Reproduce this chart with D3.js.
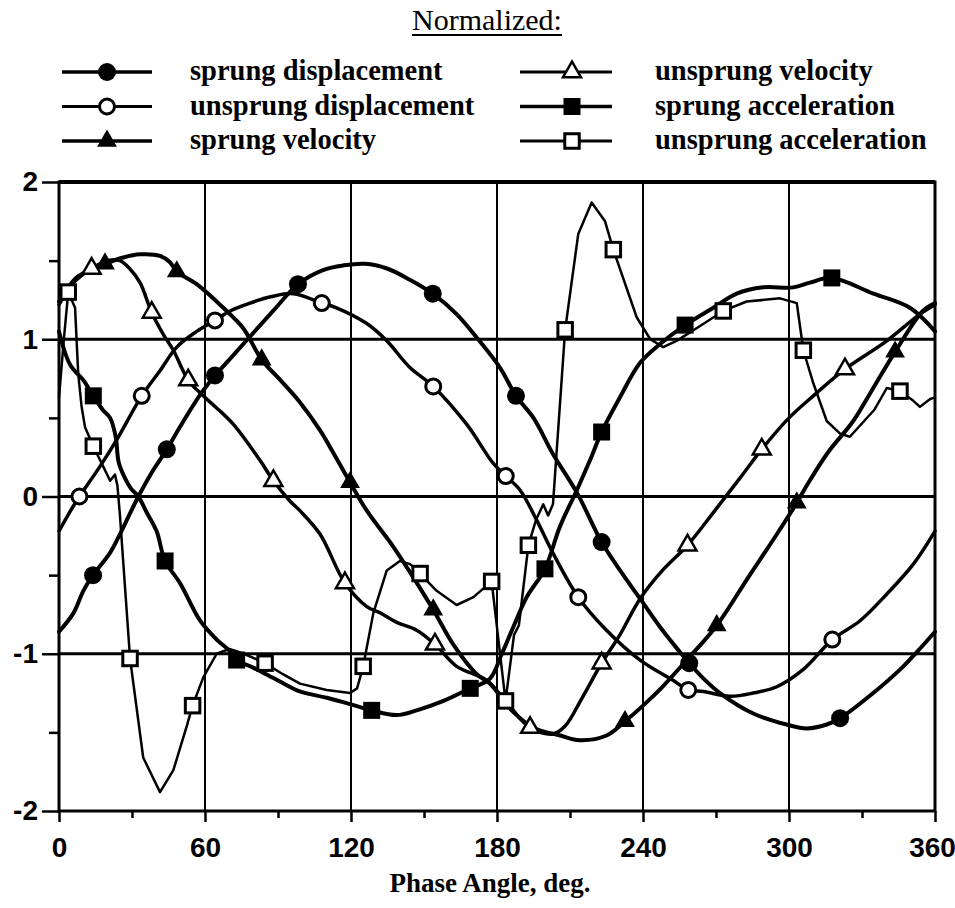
<!DOCTYPE html>
<html lang="en">
<head>
<meta charset="UTF-8">
<title>Normalized response vs phase angle</title>
<script src="https://d3js.org/d3.v7.min.js"></script>
<style>
  body { margin: 0; background: #fff; }
  svg { font-family: "Liberation Serif", "Times New Roman", serif; font-weight: bold; }
  .axis .domain { display: none; }
  .axis line { stroke: #000; stroke-width: 2.5; }
  .axis text { fill: #000; font-size: 28px; }
</style>
</head>
<body>
<svg width="955" height="908"></svg>
<script>
// [phase angle (deg), normalized value]
const sprungDisp = [[0,-0.86],[6,-0.74],[10,-0.60],[14,-0.50],[20.9,-0.36],[24.4,-0.26],[28.5,-0.13],[32.6,0.0],[38,0.15],[44.3,0.30],[50,0.45],[58.6,0.66],[64.1,0.77],[70,0.87],[77.5,1.0],[88,1.18],[98.2,1.35],[108.5,1.44],[117,1.47],[125.8,1.48],[134.8,1.45],[144,1.38],[153.6,1.29],[163.4,1.16],[171.7,1.01],[181.2,0.82],[187.8,0.64],[195,0.50],[203,0.27],[213,0.02],[223,-0.29],[231,-0.48],[238.8,-0.65],[247,-0.83],[255.2,-0.99],[259,-1.06],[265,-1.16],[271.6,-1.25],[285.3,-1.38],[299,-1.45],[307.3,-1.475],[315.5,-1.45],[321,-1.41],[334.6,-1.25],[347,-1.08],[352.5,-0.99],[360,-0.86]];
const sprungDispMarks = [14,44.3,64.1,98.2,153.6,187.8,223,259,321];

const unsprungDisp = [[0,-0.22],[4,-0.11],[8.4,0.0],[16.8,0.19],[23.7,0.36],[34,0.64],[41.5,0.80],[48.4,0.95],[56.6,1.05],[64.1,1.12],[70.3,1.18],[78.5,1.23],[87,1.27],[96.3,1.29],[108,1.23],[114,1.20],[126.5,1.10],[134.7,0.99],[144.2,0.82],[153.8,0.70],[167.5,0.46],[178.5,0.21],[183.6,0.13],[189.5,0.04],[196.3,-0.15],[203,-0.36],[213.4,-0.64],[225,-0.85],[238.8,-1.04],[252.5,-1.17],[258.6,-1.23],[264.8,-1.24],[275.8,-1.27],[285.3,-1.25],[295,-1.21],[305.9,-1.10],[317.8,-0.91],[329.2,-0.79],[340.2,-0.62],[351.1,-0.43],[360,-0.22]];
const unsprungDispMarks = [8.4,34,64.1,108,153.8,183.6,213.4,258.6,317.8];

const sprungVel = [[0,1.24],[7,1.39],[13,1.44],[18.9,1.48],[26.4,1.52],[33.3,1.54],[41.5,1.53],[45.6,1.49],[48.4,1.43],[56.6,1.35],[67.5,1.20],[75.7,1.07],[83.3,0.87],[91,0.74],[99,0.60],[107.3,0.42],[113,0.27],[119.6,0.09],[126.5,-0.09],[137.4,-0.32],[145,-0.50],[153.8,-0.72],[162,-0.94],[171.7,-1.13],[177.1,-1.19],[186,-1.36],[195,-1.47],[206,-1.52],[214,-1.55],[225,-1.52],[232.6,-1.43],[240,-1.33],[248,-1.21],[258,-1.04],[270.3,-0.82],[282.6,-0.53],[295,-0.24],[303.2,-0.04],[307.3,0.07],[316,0.28],[326.4,0.48],[335,0.70],[343.6,0.92],[355,1.18],[360,1.23]];
const sprungVelMarks = [18.9,48.4,83.3,119.6,153.8,232.6,270.3,303.2,343.6];

const unsprungVel = [[0,1.22],[6,1.36],[13.4,1.45],[20,1.50],[25,1.50],[29,1.45],[33.3,1.36],[38.1,1.17],[42.9,1.03],[47,0.93],[53.1,0.74],[58.6,0.65],[65,0.56],[71.6,0.46],[82.6,0.23],[88.1,0.10],[95,-0.03],[99,-0.09],[107.3,-0.24],[117.5,-0.55],[126.5,-0.70],[132,-0.74],[138.8,-0.80],[147,-0.85],[154.5,-0.94],[163.4,-1.08],[175.8,-1.17],[185,-1.33],[193.6,-1.47],[203,-1.51],[208,-1.46],[215,-1.28],[223,-1.06],[230.5,-0.88],[238.8,-0.65],[248,-0.47],[258.3,-0.31],[270,-0.08],[280,0.12],[288.8,0.30],[300,0.50],[310,0.64],[323,0.81],[340.2,0.99],[353.8,1.16],[360,1.22]];
const unsprungVelMarks = [13.4,38.1,53.1,88.1,117.5,154.5,193.6,223,258.3,288.8,323];

const sprungAcc = [[0,1.05],[4.5,0.84],[10,0.74],[14.1,0.64],[18,0.55],[21,0.50],[23.3,0.38],[24.5,0.22],[27,0.12],[29.6,0.05],[32.6,0.0],[36,-0.10],[40.1,-0.22],[43.6,-0.41],[49.7,-0.55],[58,-0.79],[64.8,-0.91],[70,-0.98],[73,-1.04],[80,-1.09],[90,-1.17],[99,-1.24],[110,-1.28],[119.6,-1.32],[128.5,-1.36],[138.8,-1.39],[147,-1.36],[158,-1.30],[169,-1.22],[177,-1.16],[182,-1.0],[186.7,-0.83],[192.2,-0.64],[199.7,-0.46],[205.9,-0.19],[212.8,0.04],[218.2,0.23],[223,0.41],[230.5,0.63],[238.8,0.85],[247,0.97],[257.3,1.09],[268.9,1.20],[278.5,1.29],[289.4,1.33],[301.8,1.33],[308.6,1.36],[317.6,1.39],[334.7,1.29],[349.7,1.20],[360,1.05]];
const sprungAccMarks = [14.1,43.6,73,128.5,169,199.7,223,257.3,317.6];

const unsprungAcc = [[0,0.63],[2,1.0],[3.8,1.30],[6.6,1.20],[7.9,0.78],[9.3,0.57],[10.7,0.44],[14.1,0.32],[18.2,0.19],[21,0.10],[23,0.14],[24,0.07],[25,-0.11],[29.2,-1.03],[34.6,-1.66],[41.5,-1.88],[47,-1.74],[52.5,-1.46],[54.9,-1.33],[59.3,-1.15],[64.8,-1.00],[70,-0.97],[76,-1.00],[84.7,-1.06],[92,-1.13],[99,-1.19],[110,-1.23],[119.6,-1.25],[122.5,-1.22],[125,-1.08],[129.2,-0.74],[134.7,-0.47],[140.1,-0.41],[144.3,-0.43],[148.4,-0.49],[155.2,-0.60],[163.4,-0.69],[170.3,-0.64],[177.8,-0.54],[183.5,-1.30],[187,-0.88],[189,-0.82],[192.9,-0.31],[196,-0.15],[199,-0.05],[201,-0.12],[203,-0.05],[208,1.06],[213.4,1.67],[218.9,1.87],[224.4,1.75],[227.8,1.57],[237.4,1.14],[243,1.00],[248.3,0.95],[253.8,0.99],[262,1.07],[273,1.18],[282.6,1.24],[296.3,1.26],[303.2,1.23],[305.9,0.93],[310,0.72],[315.5,0.48],[321,0.40],[325,0.38],[335,0.55],[340.2,0.69],[345.6,0.67],[351,0.61],[353.8,0.57],[358,0.62],[360,0.63]];
const unsprungAccMarks = [3.8,14.1,29.2,54.9,84.7,125,148.4,177.8,183.5,192.9,208,227.8,273,305.9,345.6];

const xTicks = [0, 60, 120, 180, 240, 300, 360];
const xMinorTicks = [30, 90, 150, 210, 270, 330];
const yTicks = [-2, -1, 0, 1, 2];
const yMinorTicks = [-1.5, -0.5, 0.5, 1.5];

const series = [
  { name: "sprung displacement", data: sprungDisp, marks: sprungDispMarks, shape: "circle", filled: true, width: 4 },
  { name: "unsprung displacement", data: unsprungDisp, marks: unsprungDispMarks, shape: "circle", filled: false, width: 3.5 },
  { name: "sprung velocity", data: sprungVel, marks: sprungVelMarks, shape: "triangle", filled: true, width: 4 },
  { name: "unsprung velocity", data: unsprungVel, marks: unsprungVelMarks, shape: "triangle", filled: false, width: 3.5 },
  { name: "sprung acceleration", data: sprungAcc, marks: sprungAccMarks, shape: "square", filled: true, width: 4 },
  { name: "unsprung acceleration", data: unsprungAcc, marks: unsprungAccMarks, shape: "square", filled: false, width: 2.5, linear: true }
];

const svg = d3.select("svg");
const x = d3.scaleLinear().domain([0, 360]).range([59, 935]);
const y = d3.scaleLinear().domain([-2, 2]).range([811, 182]);

// grid
svg.append("g").selectAll("line").data(xTicks.slice(1, -1)).join("line")
  .attr("x1", d => x(d)).attr("x2", d => x(d))
  .attr("y1", y(2)).attr("y2", y(-2))
  .attr("stroke", "#000").attr("stroke-width", 2);
svg.append("g").selectAll("line").data([-1, 0, 1]).join("line")
  .attr("x1", x(0)).attr("x2", x(360))
  .attr("y1", d => y(d)).attr("y2", d => y(d))
  .attr("stroke", "#000").attr("stroke-width", 3);

// frame
svg.append("rect")
  .attr("x", x(0)).attr("y", y(2))
  .attr("width", x(360) - x(0)).attr("height", y(-2) - y(2))
  .attr("fill", "none").attr("stroke", "#000").attr("stroke-width", 3);
svg.append("line")
  .attr("x1", x(0)).attr("x2", x(360)).attr("y1", y(2)).attr("y2", y(2))
  .attr("stroke", "#000").attr("stroke-width", 4);

// axes
const xAxisG = svg.append("g").attr("class", "axis")
  .attr("transform", `translate(0,${y(-2)})`)
  .call(d3.axisBottom(x).tickValues(xTicks).tickSize(11).tickPadding(15).tickFormat(d => String(d)));
// last label sits against the right edge, as in the original
xAxisG.selectAll(".tick text").filter(d => d === 360).attr("x", -3);
svg.append("g").attr("class", "axis")
  .attr("transform", `translate(0,${y(-2)})`)
  .call(d3.axisBottom(x).tickValues(xMinorTicks).tickSize(7).tickFormat(""));
svg.append("g").attr("class", "axis")
  .attr("transform", `translate(${x(0)},0)`)
  .call(d3.axisLeft(y).tickValues(yTicks).tickSize(17).tickPadding(4).tickFormat(d => String(d)));
svg.append("g").attr("class", "axis")
  .attr("transform", `translate(${x(0)},0)`)
  .call(d3.axisLeft(y).tickValues(yMinorTicks).tickSize(10).tickFormat(""));

// markers
function marker(g, s, cx, cy) {
  const fill = s.filled ? "#000" : "#fff";
  if (s.shape === "circle") {
    g.append("circle").attr("cx", cx).attr("cy", cy)
      .attr("r", s.filled ? 9 : 7.5)
      .attr("fill", fill).attr("stroke", "#000").attr("stroke-width", s.filled ? 0 : 3);
  } else if (s.shape === "triangle") {
    g.append("path")
      .attr("transform", `translate(${cx},${cy})`)
      .attr("d", d3.symbol(d3.symbolTriangle, s.filled ? 170 : 140)())
      .attr("fill", fill).attr("stroke", "#000").attr("stroke-width", s.filled ? 0 : 2.5);
  } else {
    const w = s.filled ? 17 : 14.5;
    g.append("rect").attr("x", cx - w / 2).attr("y", cy - w / 2)
      .attr("width", w).attr("height", w)
      .attr("fill", fill).attr("stroke", "#000").attr("stroke-width", s.filled ? 0 : 3);
  }
}

const plot = svg.append("g");
series.forEach(s => {
  const line = d3.line()
    .x(d => x(d[0])).y(d => y(d[1]))
    .curve(s.linear ? d3.curveLinear : d3.curveCatmullRom.alpha(0.5));
  plot.append("path").datum(s.data)
    .attr("d", line)
    .attr("fill", "none").attr("stroke", "#000")
    .attr("stroke-width", s.width)
    .attr("stroke-linejoin", "round").attr("stroke-linecap", "round");
});
series.forEach(s => {
  const g = plot.append("g");
  s.marks.forEach(a => {
    const p = s.data.find(d => d[0] === a);
    marker(g, s, x(p[0]), y(p[1]));
  });
});

// title
svg.append("text").attr("x", 487).attr("y", 30)
  .attr("text-anchor", "middle").attr("font-size", 30).attr("font-weight", "normal")
  .text("Normalized:");
svg.append("line").attr("x1", 412).attr("x2", 562).attr("y1", 35).attr("y2", 35)
  .attr("stroke", "#000").attr("stroke-width", 2);

// legend
const legend = svg.append("g");
series.forEach((s, i) => {
  const col = i < 3 ? 0 : 1;
  const row = i % 3;
  const ly = 72 + row * 34.5;
  const lx1 = col ? 520 : 62, lx2 = col ? 612 : 152;
  const mx = col ? 572 : 107;
  legend.append("line").attr("x1", lx1).attr("x2", lx2).attr("y1", ly).attr("y2", ly)
    .attr("stroke", "#000").attr("stroke-width", s.filled ? 3.5 : 3);
  marker(legend, s, mx, ly);
  legend.append("text").attr("x", col ? 655 : 190).attr("y", ly + 8)
    .attr("font-size", 28.5).text(s.name);
});

// x axis title
svg.append("text").attr("x", 490).attr("y", 892)
  .attr("text-anchor", "middle").attr("font-size", 27)
  .text("Phase Angle, deg.");
</script>
</body>
</html>
